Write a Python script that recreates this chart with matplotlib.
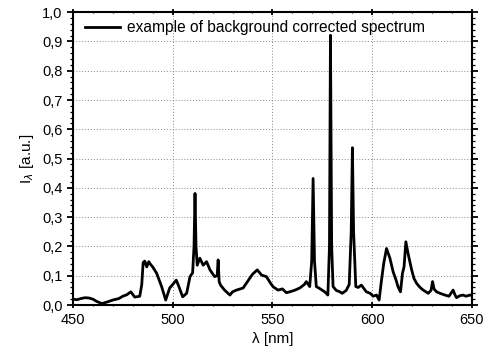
import matplotlib
matplotlib.use("Agg")
import matplotlib.pyplot as plt
from matplotlib.ticker import MultipleLocator, FuncFormatter

plt.rcParams['font.family'] = ['Liberation Sans', 'DejaVu Sans']

wavelength = [450, 452, 454, 456, 458, 460, 462, 464.5, 467, 470, 473, 475, 477, 479, 481,
              483.5, 484.5, 485.2, 486, 487, 488, 489, 490, 492, 494.5, 496.5, 498.5, 500,
              501.8, 503, 505, 507, 508.7, 510, 510.7, 511.2, 511.7, 512.3, 513.6, 515.3,
              517, 518.7, 521, 522.3, 522.8, 523.3, 524, 526, 528.7, 530, 532, 535.3, 537,
              538.7, 540, 542.4, 544.6, 547, 549, 550.4, 552.8, 555, 557, 558.7, 561, 563.7,
              566, 567, 568.7, 569.7, 570.4, 571.1, 572, 574, 576.2, 577.8, 578.6, 579.1,
              579.7, 580.4, 582, 583.8, 585, 587, 588.5, 589.5, 590.1, 590.7, 591.8, 593,
              594.6, 597.1, 599, 600.5, 602.2, 603.5, 604.6, 605.8, 607.2, 608.9, 610.5,
              612, 613, 614.2, 615.2, 616, 616.9, 618, 619.8, 621, 622.3, 624, 625.6, 627,
              628.1, 629.5, 630.3, 631, 632.3, 634, 636.5, 638.5, 640.6, 641.5, 642.3, 644,
              645.6, 647, 649, 650]

intensity = [0.020, 0.018, 0.022, 0.025, 0.024, 0.020, 0.012, 0.005, 0.010, 0.017, 0.022,
             0.030, 0.035, 0.045, 0.027, 0.030, 0.070, 0.145, 0.150, 0.130, 0.148, 0.138,
             0.130, 0.108, 0.062, 0.017, 0.058, 0.070, 0.085, 0.065, 0.028, 0.040, 0.097,
             0.110, 0.200, 0.381, 0.200, 0.136, 0.160, 0.136, 0.148, 0.120, 0.097, 0.100,
             0.154, 0.080, 0.068, 0.051, 0.034, 0.045, 0.051, 0.058, 0.075, 0.092, 0.105,
             0.120, 0.102, 0.097, 0.075, 0.062, 0.051, 0.055, 0.042, 0.045, 0.050, 0.058,
             0.070, 0.080, 0.063, 0.150, 0.432, 0.150, 0.063, 0.055, 0.045, 0.034, 0.200,
             0.921, 0.200, 0.063, 0.050, 0.045, 0.040, 0.050, 0.070, 0.250, 0.537, 0.250,
             0.063, 0.060, 0.068, 0.045, 0.040, 0.030, 0.034, 0.017, 0.080, 0.142, 0.193,
             0.160, 0.114, 0.085, 0.062, 0.045, 0.108, 0.131, 0.216, 0.176, 0.120, 0.090,
             0.074, 0.060, 0.051, 0.045, 0.040, 0.050, 0.080, 0.055, 0.045, 0.040, 0.034,
             0.030, 0.051, 0.035, 0.025, 0.032, 0.034, 0.030, 0.034, 0.032]

legend_label = "example of background corrected spectrum"

fig = plt.figure(figsize=(4.83, 3.58), dpi=100)
ax = fig.add_axes([0.151, 0.148, 0.826, 0.818])

ax.plot(wavelength, intensity, color='black', lw=2.0, label=legend_label)

ax.set_xlim(450, 650)
ax.set_ylim(0, 1.0)
ax.xaxis.set_major_locator(MultipleLocator(50))
ax.xaxis.set_minor_locator(MultipleLocator(10))
ax.yaxis.set_major_locator(MultipleLocator(0.1))
ax.yaxis.set_minor_locator(MultipleLocator(0.02))
ax.yaxis.set_major_formatter(FuncFormatter(lambda v, p: f"{v:.1f}".replace('.', ',')))

ax.grid(True, which='major', color='#888888', linestyle=(0, (1, 2)), linewidth=0.7)
ax.tick_params(which='major', direction='out', length=4, width=1.3, labelsize=10.5,
               top=True, right=True)
ax.tick_params(which='minor', direction='out', length=2, width=0.9, top=True, right=True)
ax.tick_params(axis='x', which='both', direction='inout')
for s in ax.spines.values():
    s.set_linewidth(1.5)

ax.set_xlabel("λ [nm]", fontsize=11)
ax.set_ylabel(r"I$_\lambda$ [a.u.]", fontsize=11)

leg = ax.legend(loc='upper left', frameon=False, fontsize=11.2, handlelength=2.3,
                handletextpad=0.4, borderaxespad=0.1, bbox_to_anchor=(0.01, 1.0))

fig.savefig("out.png", dpi=100)
